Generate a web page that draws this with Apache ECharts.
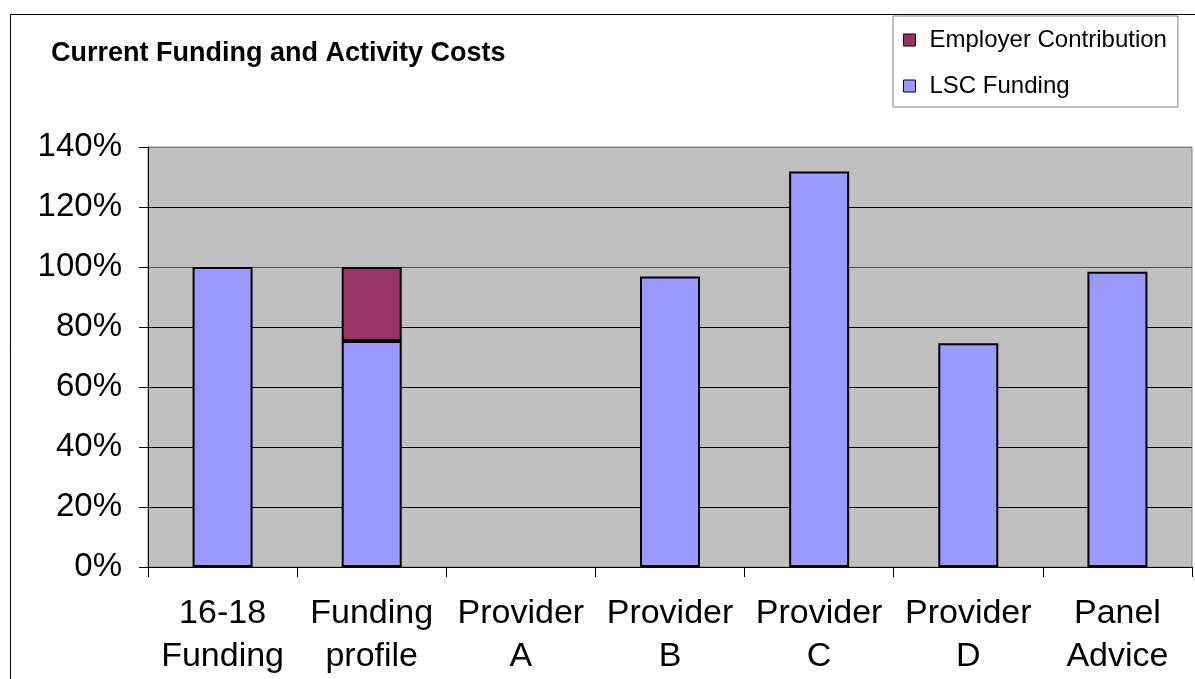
<!DOCTYPE html>
<html>
<head>
<meta charset="utf-8">
<script src="https://cdn.jsdelivr.net/npm/echarts@6/dist/echarts.min.js"></script>
<style>
html,body{margin:0;padding:0;background:#fff;}
#chart{width:1195px;height:679px;}
</style>
</head>
<body>
<div id="chart"></div>
<script>
const titleText = 'Current Funding and Activity Costs';
const categories = ['16-18\nFunding', 'Funding\nprofile', 'Provider\nA', 'Provider\nB', 'Provider\nC', 'Provider\nD', 'Panel\nAdvice'];
const lscFunding = [100, 75.3, null, 96.8, 131.8, 74.6, 98.4];
const employerContribution = [null, 24.7, null, null, null, null, null];
const yTicks = { min: 0, max: 140, interval: 20 };

const FONT = '"Liberation Sans", Arial, sans-serif';
const chart = echarts.init(document.getElementById('chart'));
chart.setOption({
  animation: false,
  backgroundColor: '#ffffff',
  title: {
    text: titleText,
    left: 51,
    top: 40,
    padding: 0,
    textStyle: { fontFamily: FONT, fontSize: 27, fontWeight: 'bold', color: '#000', lineHeight: 27 }
  },
  legend: {
    data: ['Employer Contribution', 'LSC Funding'],
    orient: 'vertical',
    left: 893,
    top: 16,
    padding: [11, 11, 8, 10],
    itemGap: 20,
    itemWidth: 12,
    itemHeight: 12,
    icon: 'rect',
    borderColor: '#808080',
    borderWidth: 1,
    backgroundColor: '#ffffff',
    itemStyle: { borderColor: '#000', borderWidth: 1 },
    textStyle: { fontFamily: FONT, fontSize: 24, color: '#000', lineHeight: 26, padding: [0, 0, 0, 9] }
  },
  graphic: [{
    type: 'rect',
    z: -10,
    silent: true,
    shape: { x: 10.5, y: 14.5, width: 1300, height: 800 },
    style: { fill: 'none', stroke: '#000', lineWidth: 1 }
  }],
  grid: {
    left: 148, top: 147, right: 3, bottom: 112,
    show: true,
    backgroundColor: '#c0c0c0',
    borderColor: '#808080',
    borderWidth: 1
  },
  xAxis: {
    type: 'category',
    data: categories,
    axisLine: { show: true, lineStyle: { color: '#000', width: 1 } },
    axisTick: { show: true, length: 10, lineStyle: { color: '#000' } },
    axisLabel: { fontFamily: FONT, fontSize: 34, color: '#000', lineHeight: 43, margin: 25, interval: 0 },
    splitLine: { show: false }
  },
  yAxis: {
    type: 'value',
    min: yTicks.min, max: yTicks.max, interval: yTicks.interval,
    axisLine: { show: true, lineStyle: { color: '#000', width: 1 } },
    axisTick: { show: true, length: 9, lineStyle: { color: '#000' } },
    axisLabel: { fontFamily: FONT, fontSize: 33, color: '#000', margin: 26, formatter: '{value}%' },
    splitLine: { show: true, lineStyle: { color: ['#000', '#000', '#000', '#000', '#000', '#555', '#000', '#808080'], width: 1 } }
  },
  series: [
    {
      name: 'LSC Funding',
      type: 'bar',
      stack: 'total',
      data: lscFunding,
      barWidth: 60,
      itemStyle: { color: '#9999ff', borderColor: '#000', borderWidth: 2 }
    },
    {
      name: 'Employer Contribution',
      type: 'bar',
      stack: 'total',
      data: employerContribution,
      barWidth: 60,
      itemStyle: { color: '#993366', borderColor: '#000', borderWidth: 2 }
    }
  ]
});
</script>
</body>
</html>
